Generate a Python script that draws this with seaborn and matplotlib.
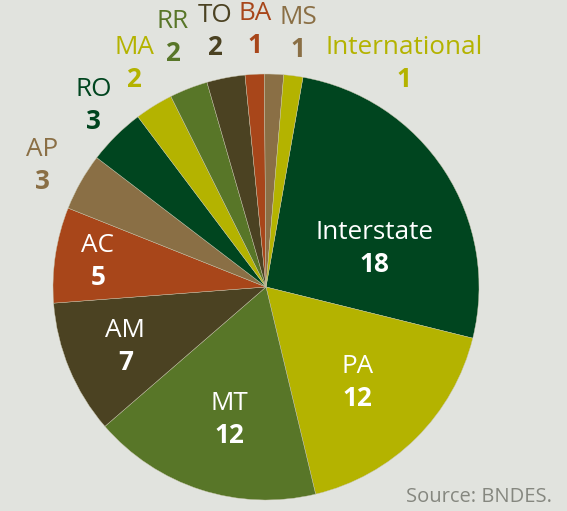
import matplotlib.pyplot as plt
import seaborn as sns
import numpy as np

# data
regions = ['Interstate', 'PA', 'MT', 'AM', 'AC', 'AP', 'RO', 'MA', 'RR', 'TO', 'BA', 'MS', 'International']
counts = [18, 12, 12, 7, 5, 3, 3, 2, 2, 2, 1, 1, 1]
source_note = 'Source: BNDES.'

dkgreen, yellow, green, brown, rust, tan = '#00451f', '#b4b300', '#587628', '#4b4222', '#a8461a', '#8a6f45'
colors = [dkgreen, yellow, green, brown, rust, tan, dkgreen, yellow, green, brown, rust, tan, yellow]

# label centres, in pie-radius units from the centre (layout only)
label_xy = [(0.51, 0.18), (0.43, -0.45), (-0.17, -0.62), (-0.66, -0.28), (-0.79, 0.12),
            (-1.05, 0.57), (-0.81, 0.85), (-0.62, 1.05), (-0.44, 1.17), (-0.24, 1.20),
            (-0.05, 1.21), (0.15, 1.19), (0.65, 1.05)]
inside = 5  # first five labels sit on their wedges

sns.set_theme(style='white')
plt.rcParams['font.family'] = ['Open Sans', 'DejaVu Sans']
bg = '#e1e3de'

fig = plt.figure(figsize=(5.67, 5.11), dpi=100, facecolor=bg)
ax = fig.add_axes([0, 0, 1, 1])
ax.set_facecolor(bg)

ax.pie(counts, colors=colors, startangle=80, counterclock=False, radius=1,
       wedgeprops=dict(linewidth=0.3, edgecolor='#c9c6ad'))

r_px = 213.0
cx, cy = 266.0, 287.0
ax.set_xlim(-cx / r_px, (567 - cx) / r_px)
ax.set_ylim(-(511 - cy) / r_px, cy / r_px)
ax.set_aspect('auto')
ax.axis('off')

gap = 16 / r_px
for i, (name, n) in enumerate(zip(regions, counts)):
    x, y = label_xy[i]
    col = 'white' if i < inside else colors[i]
    ax.text(x, y + gap, name, ha='center', va='center', fontsize=18.8, color=col)
    ax.text(x, y - gap, str(n), ha='center', va='center', fontsize=18.8,
            fontweight='bold', color=col)

fig.text(0.974, 0.008, source_note, ha='right', va='bottom', fontsize=14.5, color='#85877f')

fig.savefig('out.png', dpi=100, facecolor=bg)
